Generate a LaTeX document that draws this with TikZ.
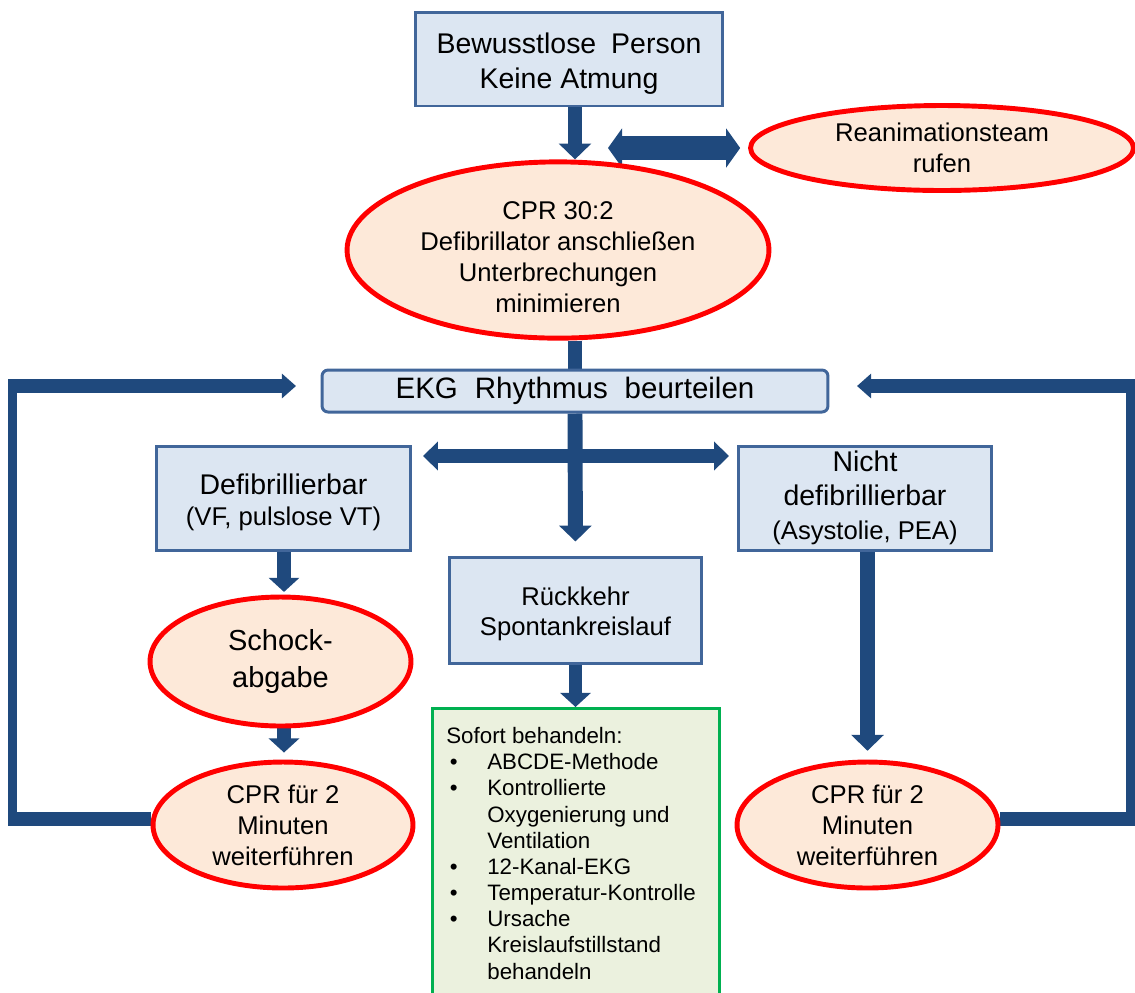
\documentclass[tikz,border=0pt]{standalone}
\usepackage{fontspec}
\setmainfont{Liberation Sans}
\usetikzlibrary{arrows.meta,shapes.geometric}
\definecolor{boxfill}{HTML}{DCE6F2}
\definecolor{boxdraw}{HTML}{41669A}
\definecolor{arrc}{HTML}{1F497D}
\definecolor{ellfill}{HTML}{FDE9D9}
\definecolor{grfill}{HTML}{EBF1DE}
\definecolor{grdraw}{HTML}{00B050}
\pgfdeclarelayer{background}
\pgfsetlayers{background,main}
\newcommand{\fsA}{\fontsize{16.2}{19.4}\selectfont}
\newcommand{\fsE}{\fontsize{16.8}{19.4}\selectfont}
\newcommand{\fsB}{\fontsize{14.6}{17.6}\selectfont}
\newcommand{\fsS}{\fontsize{16.5}{21.5}\selectfont}
\newcommand{\fsC}{\fontsize{12.7}{14.9}\selectfont}
\newcommand{\bul}{\makebox[0.82cm][l]{\hspace{2pt}\textbullet}}
\newcommand{\ind}{\makebox[0.82cm]{}}
\tikzset{
  bluebox/.style={draw=boxdraw, fill=boxfill, line width=1.7pt, inner sep=0pt, align=center},
  redell/.style={ellipse, draw=red, fill=ellfill, line width=2.8pt, inner sep=0pt, align=center},
  arr/.style={draw=arrc, line width=8.5pt, -{Triangle[width=18pt,length=9pt]}},
  sarr/.style={draw=arrc, line width=7.5pt, -{Triangle[width=17pt,length=8pt]}},
  dblbig/.style={draw=arrc, line width=14pt, {Triangle[width=22pt,length=8pt]}-{Triangle[width=22pt,length=8pt]}},
  dbl/.style={draw=arrc, line width=8pt, {Triangle[width=16pt,length=8.5pt]}-{Triangle[width=16pt,length=8.5pt]}},
  hline/.style={draw=arrc, line width=7.5pt},
  vline/.style={draw=arrc, line width=5pt},
  hlinearr/.style={draw=arrc, line width=7.5pt, -{Triangle[width=13.6pt,length=8pt]}},
  plainline/.style={draw=arrc, line width=8.5pt}
}
\begin{document}
\begin{tikzpicture}[x=0.02cm,y=-0.02cm]
\useasboundingbox (0,0) rectangle (1135,992);

% nodes
\node[bluebox, minimum width=6.16cm, minimum height=1.88cm, font=\fsA] (top) at (569,59)
  {\rule{0pt}{17pt}Bewusstlose\hspace{4pt} Person\\Keine Atmung};
\node[redell, minimum width=7.66cm, minimum height=1.7cm, font=\fsB] (rea) at (942,148)
  {Reanimationsteam\\rufen};
\node[redell, minimum width=8.44cm, minimum height=3.1cm, font=\fsB] (cpr) at (558,250)
  {\rule{0pt}{18pt}CPR 30:2\\Defibrillator anschließen\\Unterbrechungen\\minimieren};
\node[bluebox, rounded corners=3.4pt, minimum width=10.12cm, minimum height=0.84cm, font=\fsE] (ekg) at (575,391)
  {EKG\hspace{5pt} Rhythmus\hspace{5pt} beurteilen};
\node[bluebox, minimum width=5.1cm, minimum height=2.08cm, font=\fsB] (defi) at (283.5,498)
  {\rule{0pt}{17pt}{\fsA Defibrillierbar}\\(VF, pulslose VT)};
\node[bluebox, minimum width=5.08cm, minimum height=2.08cm, font=\fsA] (nicht) at (865,498)
  {Nicht\\defibrillierbar\\{\fsB (Asystolie, PEA)}};
\node[bluebox, minimum width=5.06cm, minimum height=2.12cm, font=\fsB] (rueck) at (575.5,610)
  {\rule{0pt}{15pt}Rückkehr\\Spontankreislauf};
\node[redell, minimum width=5.22cm, minimum height=2.58cm, font=\fsS] (schock) at (280.5,661.5)
  {Schock-\\abgabe};
\node[redell, minimum width=5.2cm, minimum height=2.52cm, font=\fsB] (cprL) at (283,825)
  {CPR für 2\\Minuten\\weiterführen};
\node[redell, minimum width=5.22cm, minimum height=2.52cm, font=\fsB] (cprR) at (867.5,825)
  {CPR für 2\\Minuten\\weiterführen};
\node[draw=grdraw, fill=grfill, line width=1.7pt, anchor=north west, minimum width=5.74cm, minimum height=6cm, inner sep=0pt] (gbox) at (431,707) {};
\node[anchor=north west, inner sep=0pt, align=left, font=\fsC] (gtext) at (446,727)
  {Sofort behandeln:\\
   \bul ABCDE-Methode\\
   \bul Kontrollierte\\
   \ind Oxygenierung und\\
   \ind Ventilation\\
   \bul 12-Kanal-EKG\\
   \bul Temperatur-Kontrolle\\
   \bul Ursache\\
   \ind Kreislaufstillstand\\
   \ind behandeln};

% free coordinates
\coordinate (dA) at (608,148);
\coordinate (hl) at (423,456);
\coordinate (hr) at (729,456);
\coordinate (lbh) at (8,819);
\coordinate (lbv) at (12.5,824);
\coordinate (ltv) at (12.5,380);
\coordinate (lth) at (8,386);
\coordinate (la) at (296,386);
\coordinate (rbh) at (1135,819);
\coordinate (rbv) at (1130.5,824);
\coordinate (rtv) at (1130.5,380);
\coordinate (rth) at (1135,386);
\coordinate (ra) at (857,386);

\begin{pgfonlayer}{background}
\draw[arr] (top.south -| ekg.north) -- (cpr.north -| ekg.north);
\draw[dblbig, shorten >=4.5pt] (dA) -- (rea.west);
\draw[plainline] (cpr.south -| ekg.north) -- (ekg.north);
\draw[arr, shorten >=8pt] (ekg.south) -- (rueck.north);
\draw[dbl] (hl) -- (hr);
% left loop
\draw[hline] (cprL.west |- lbh) -- (lbh);
\draw[vline] (lbv) -- (ltv);
\draw[hlinearr] (lth) -- (la);
% right loop
\draw[hline] (cprR.east |- rbh) -- (rbh);
\draw[vline] (rbv) -- (rtv);
\draw[hlinearr] (rth) -- (ra);
% vertical arrows
\draw[sarr, shorten >=1.5pt] (defi.south -| 284,0) -- (schock.north -| 284,0);
\draw[sarr, shorten >=4pt] (schock.south -| 284,0) -- (cprL.north -| 284,0);
\draw[arr, shorten >=5pt] (nicht.south -| cprR.north) -- (cprR.north);
\draw[sarr] (rueck.south) -- (gbox.north -| rueck.south);
\end{pgfonlayer}
\end{tikzpicture}
\end{document}
